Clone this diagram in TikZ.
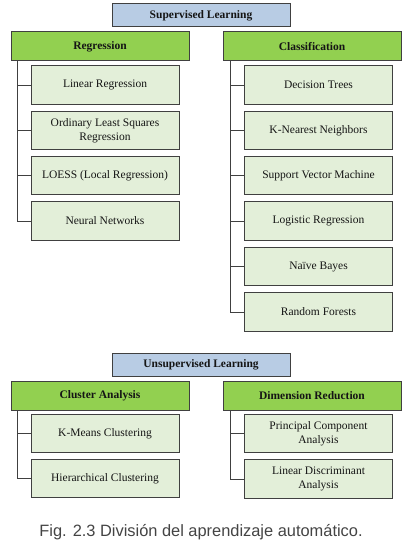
\documentclass[tikz,border=0pt]{standalone}
\usepackage{fontspec}
\setmainfont{Liberation Serif}
\newfontfamily\capfont{Liberation Sans}
\definecolor{bordc}{HTML}{404040}
\definecolor{bluef}{HTML}{B8CCE4}
\definecolor{greenf}{HTML}{92D050}
\definecolor{leaff}{HTML}{E3EFD9}
\definecolor{txtc}{HTML}{151515}
\definecolor{capc}{HTML}{444444}
\tikzset{
  basebox/.style={draw=bordc, line width=1pt, inner sep=0pt, text=txtc, align=center,
    font=\fontsize{11.5}{13.7}\selectfont},
  topbox/.style={basebox, fill=bluef, minimum width=178pt, minimum height=23pt, font=\fontsize{11.5}{13.7}\selectfont\bfseries},
  headbox/.style={basebox, fill=greenf, minimum width=178pt, minimum height=29pt, font=\fontsize{11.5}{13.7}\selectfont\bfseries},
  leafbox/.style={basebox, fill=leaff, minimum width=148pt, minimum height=38.5pt},
  conn/.style={draw=bordc, line width=1pt},
}
\begin{document}
\begin{tikzpicture}[x=1pt,y=-1pt]
\useasboundingbox (0,0) rectangle (415,551);
% Supervised
\node[topbox] (sup) at (201,15.5) {Supervised Learning};
\node[headbox] (reg) at (100,46.5) {Regression};
\node[headbox] (cls) at (312,46.5) {Classification};
\node[leafbox] (r1) at (105,85) {Linear Regression};
\node[leafbox] (r2) at (105,130.5) {Ordinary Least Squares\\Regression};
\node[leafbox] (r3) at (105,175.5) {LOESS (Local Regression)};
\node[leafbox] (r4) at (105,221) {Neural Networks};
\node[leafbox] (c1) at (318.5,85) {Decision Trees};
\node[leafbox] (c2) at (318.5,130.5) {K-Nearest Neighbors};
\node[leafbox] (c3) at (318.5,175.5) {Support Vector Machine};
\node[leafbox] (c4) at (318.5,221) {Logistic Regression};
\node[leafbox] (c5) at (318.5,266.5) {Naïve Bayes};
\node[leafbox] (c6) at (318.5,312) {Random Forests};
\coordinate (sL) at (17,0);
\coordinate (sR) at (230,0);
\draw[conn] (reg.south -| sL) |- (r4.west);
\foreach \n in {r1,r2,r3} \draw[conn] (sL |- \n.west) -- (\n.west);
\draw[conn] (cls.south -| sR) |- (c6.west);
\foreach \n in {c1,c2,c3,c4,c5} \draw[conn] (sR |- \n.west) -- (\n.west);
% Unsupervised
\node[topbox] (uns) at (201,364.5) {Unsupervised Learning};
\node[headbox] (clu) at (100,395.5) {Cluster Analysis};
\node[headbox] (dim) at (312,395.5) {Dimension Reduction};
\node[leafbox] (k1) at (105,433.5) {K-Means Clustering};
\node[leafbox] (k2) at (105,478.5) {Hierarchical Clustering};
\node[leafbox] (d1) at (318.5,433.5) {Principal Component\\Analysis};
\node[leafbox] (d2) at (318.5,479) {Linear Discriminant\\Analysis};
\draw[conn] (clu.south -| sL) |- (k2.west);
\draw[conn] (sL |- k1.west) -- (k1.west);
\draw[conn] (dim.south -| sR) |- (d2.west);
\draw[conn] (sR |- d1.west) -- (d1.west);
% caption
\node[text=capc, font=\capfont\fontsize{16.4}{18}\selectfont, inner sep=0pt] (cap) at (201,532) {Fig. 2.3 División del aprendizaje automático.};
\end{tikzpicture}
\end{document}
